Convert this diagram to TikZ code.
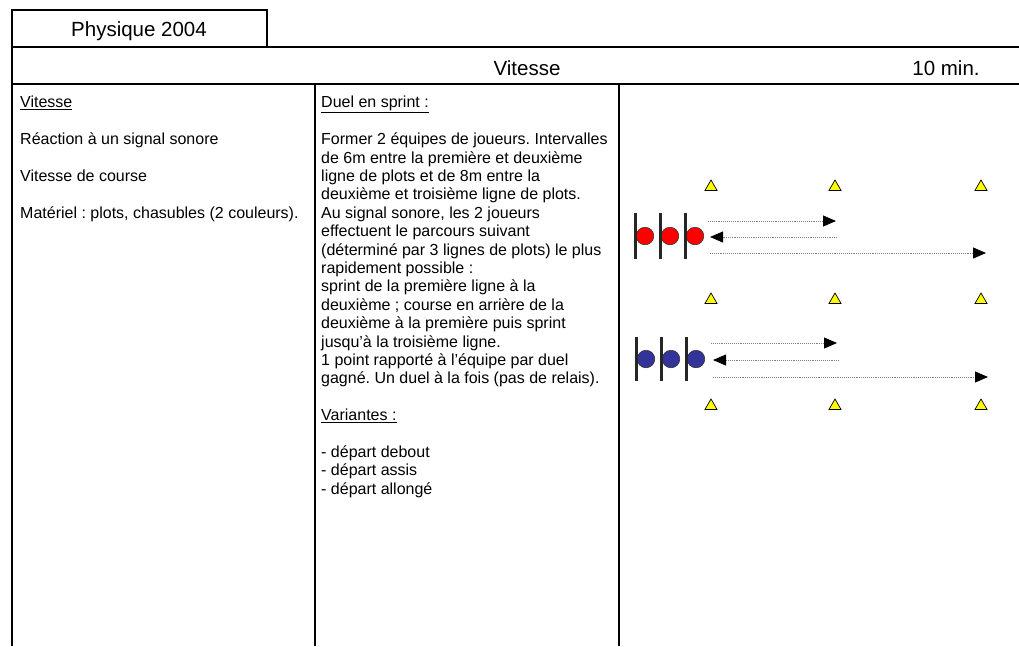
\documentclass[tikz,border=0pt]{standalone}
\usepackage{fontspec}
\setmainfont{Liberation Sans}
\frenchspacing
\usetikzlibrary{positioning, arrows.meta, shapes.geometric}
\definecolor{plotyellow}{RGB}{255,255,0}
\definecolor{teamred}{RGB}{255,0,0}
\definecolor{teamblue}{RGB}{51,51,153}
\tikzset{
  frame/.style={
    line width=1.8pt,
    black
  },
  coltext/.style={
    anchor=north west,
    inner sep=0pt,
    align=left,
    font=\fontsize{16}{18.4}\selectfont
  },
  headtext/.style={
    anchor=base,
    inner sep=0pt,
    font=\fontsize{20.5}{24}\selectfont
  },
  cone/.style={
    draw=black,
    fill=plotyellow,
    regular polygon,
    regular polygon sides=3,
    minimum size=14pt,
    inner sep=0pt,
    line width=0.7pt
  },
  player/.style={
    circle,
    draw=black!80,
    line width=0.6pt,
    minimum size=17.5pt,
    inner sep=0pt
  },
  run/.style={
    densely dotted,
    gray,
    line width=0.9pt,
    -{Triangle[length=13pt, width=11pt, black]}
  },
  stick/.style={
    line width=2.2pt,
    black!85
  }
}

\begin{document}
\begin{tikzpicture}[x=1pt, y=-1pt]
        \useasboundingbox (0,0) rectangle (1019,646);
        % tableau
        \draw[frame] (12,646) -- (12,10) -- (267,10) -- (267,47);
        \draw[frame] (12,47) -- (1019,47);
        \draw[frame] (12,84) -- (1019,84);
        \draw[frame] (315,84) -- (315,646);
        \draw[frame] (619,84) -- (619,646);

        \node[headtext] (year) at (139,36.5) {Physique 2004};
        \node[headtext] (theme) at (527,75) {Vitesse};
        \node[headtext] (duration) at (946,75) {10 min.};

        \node[coltext] (goals) at (20,96) {\underline{Vitesse}\\[18.4pt]
          Réaction à un signal sonore\\[18.4pt]
          Vitesse de course\\[18.4pt]
          Matériel : plots, chasubles (2 couleurs).};

        \node[coltext] (rules) at (321,96) {\underline{Duel en sprint :}\\[18.4pt]
          Former 2 équipes de joueurs. Intervalles\\
          de 6m entre la première et deuxième\\
          ligne de plots et de 8m entre la\\
          deuxième et troisième ligne de plots.\\
          Au signal sonore, les 2 joueurs\\
          effectuent le parcours suivant\\
          (déterminé par 3 lignes de plots) le plus\\
          rapidement possible :\\
          sprint de la première ligne à la\\
          deuxième ; course en arrière de la\\
          deuxième à la première puis sprint\\
          jusqu’à la troisième ligne.\\
          1 point rapporté à l’équipe par duel\\
          gagné. Un duel à la fois (pas de relais).\\[18.4pt]
          \underline{Variantes :}\\[18.4pt]
          - départ debout\\
          - départ assis\\
          - départ allongé};

        % plots
        \node[cone] (c11) at (711,187) {};
        \node[cone] (c12) at (835,187) {};
        \node[cone] (c13) at (981,187) {};
        \node[cone] (c21) at (711,300) {};
        \node[cone] (c22) at (835,300) {};
        \node[cone] (c23) at (981,300) {};
        \node[cone] (c31) at (711,406) {};
        \node[cone] (c32) at (835,406) {};
        \node[cone] (c33) at (981,406) {};

        % equipe rouge
        \node[player, fill=teamred] (r1) at (645,236) {};
        \node[player, fill=teamred] (r2) at (670,236) {};
        \node[player, fill=teamred] (r3) at (695,236) {};
        \draw[stick] ([xshift=-9.5pt]r1.center) ++(0,-23) -- ++(0,46);
        \draw[stick] ([xshift=-9.5pt]r2.center) ++(0,-23) -- ++(0,46);
        \draw[stick] ([xshift=-9.5pt]r3.center) ++(0,-23) -- ++(0,46);

        % equipe bleue
        \node[player, fill=teamblue] (b1) at (646,359) {};
        \node[player, fill=teamblue] (b2) at (671,359) {};
        \node[player, fill=teamblue] (b3) at (696,359) {};
        \draw[stick] ([xshift=-9.5pt]b1.center) ++(0,-22) -- ++(0,44);
        \draw[stick] ([xshift=-9.5pt]b2.center) ++(0,-22) -- ++(0,44);
        \draw[stick] ([xshift=-9.5pt]b3.center) ++(0,-22) -- ++(0,44);

        % parcours
        \coordinate (rgo1) at (708,221);
        \coordinate (rend1) at (836,221);
        \coordinate (rgo2) at (837,237);
        \coordinate (rend2) at (710,237);
        \coordinate (rgo3) at (710,253);
        \coordinate (rend3) at (986,253);
        \draw[run] (rgo1) -- (rend1);
        \draw[run] (rgo2) -- (rend2);
        \draw[run] (rgo3) -- (rend3);

        \coordinate (bgo1) at (711,343);
        \coordinate (bend1) at (837,343);
        \coordinate (bgo2) at (839,360);
        \coordinate (bend2) at (713,360);
        \coordinate (bgo3) at (713,377);
        \coordinate (bend3) at (988,377);
        \draw[run] (bgo1) -- (bend1);
        \draw[run] (bgo2) -- (bend2);
        \draw[run] (bgo3) -- (bend3);
      \end{tikzpicture}
\end{document}
